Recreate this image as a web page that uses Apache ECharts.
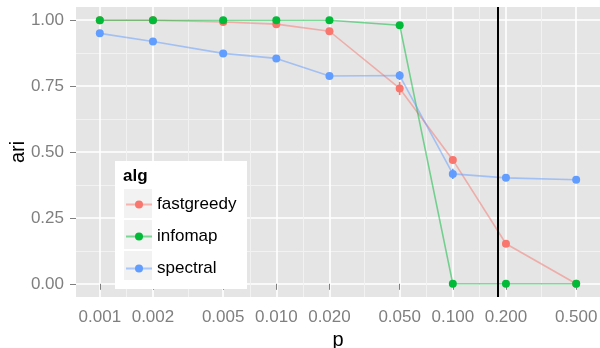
<!DOCTYPE html>
<html><head><meta charset="utf-8">
<script src="https://cdn.jsdelivr.net/npm/echarts@6/dist/echarts.min.js"></script>
<style>html,body{margin:0;padding:0;background:#fff}#c{width:600px;height:348px}</style>
</head><body><div id="c"></div>
<script>
const pValues = [0.001, 0.002, 0.005, 0.010, 0.020, 0.050, 0.100, 0.200, 0.500];
const xTicks = [0.001, 0.002, 0.005, 0.010, 0.020, 0.050, 0.100, 0.200, 0.500];
const xMinor = [0.001414, 0.003162, 0.007071, 0.01414, 0.03162, 0.07071, 0.1414, 0.3162];
const yTicks = [0, 0.25, 0.5, 0.75, 1.0];
const yMinor = [0.125, 0.375, 0.625, 0.875];
const fastgreedy    = [1.000, 1.000, 0.993, 0.985, 0.958, 0.741, 0.470, 0.152, 0.000];
const infomap       = [1.000, 1.000, 1.000, 1.000, 1.000, 0.981, 0.000, 0.000, 0.000];
const spectral      = [0.950, 0.919, 0.874, 0.855, 0.788, 0.790, 0.417, 0.402, 0.395];
const fastgreedyErr = [0, 0, 0, 0, 0, 0.025, 0, 0, 0];
const infomapErr    = [0, 0, 0, 0, 0, 0, 0, 0, 0];
const spectralErr   = [0, 0, 0, 0, 0, 0.017, 0.019, 0, 0];
const vline = 0.185;
const seriesNames = ['fastgreedy', 'infomap', 'spectral'];
const colors = ['#F8766D', '#00BA38', '#619CFF'];

const FONT = 'Liberation Sans, Arial, sans-serif';
const chart = echarts.init(document.getElementById('c'), null, {renderer: 'canvas'});
const xmin = Math.pow(10, -3 - 0.05 * Math.log10(500));
const xmax = Math.pow(10, Math.log10(0.5) + 0.05 * Math.log10(500));
const grid = {left: 76, right: 0, top: 7, bottom: 51, show: true, backgroundColor: '#E5E5E5', borderWidth: 0, containLabel: false, outerBoundsMode: 'none'};
const data = [fastgreedy, infomap, spectral];
const errs = [fastgreedyErr, infomapErr, spectralErr];
const series = [];
seriesNames.forEach((n, i) => {
  series.push({
    name: n, type: 'line', xAxisIndex: 0, yAxisIndex: 0,
    data: pValues.map((p, j) => [p, data[i][j]]),
    symbol: 'circle', symbolSize: 8,
    itemStyle: {color: colors[i], opacity: 1},
    lineStyle: {color: colors[i], width: 1.6, opacity: 0.5},
    z: 3
  });
  series.push({
    name: n, type: 'custom', xAxisIndex: 0, yAxisIndex: 0, silent: true, z: 4,
    data: pValues.map((p, j) => [p, data[i][j] - errs[i][j], data[i][j] + errs[i][j]]).filter((d, j) => errs[i][j] > 0),
    renderItem: (params, api) => {
      const lo = api.coord([api.value(0), api.value(1)]);
      const hi = api.coord([api.value(0), api.value(2)]);
      return {type: 'line', shape: {x1: lo[0], y1: lo[1], x2: hi[0], y2: hi[1]}, style: {stroke: colors[i], lineWidth: 1.6}};
    }
  });
});
series[0].markLine = {
  silent: true, symbol: 'none', label: {show: false},
  lineStyle: {color: '#000', width: 2, type: 'solid', opacity: 1},
  data: [{xAxis: vline}], z: 5
};
chart.setOption({
  animation: false,
  grid: grid,
  xAxis: [{
    type: 'log', logBase: 10, min: xmin, max: xmax,
    name: 'p', nameLocation: 'middle', nameGap: 26,
    nameTextStyle: {fontFamily: FONT, fontSize: 20, color: '#000'},
    axisLine: {show: false},
    axisTick: {show: true, customValues: xTicks, length: 6, lineStyle: {color: '#7F7F7F', width: 1}},
    axisLabel: {customValues: xTicks, formatter: v => Number(v).toFixed(3), fontFamily: FONT, fontSize: 17, color: '#7F7F7F', margin: 12},
    splitLine: {show: true, lineStyle: {color: '#FFFFFF', width: 1.6}},
    minorSplitLine: {show: false}
  }, {
    type: 'log', logBase: 10, min: xmin, max: xmax, position: 'bottom',
    axisLine: {show: false}, axisLabel: {show: false, customValues: xMinor},
    axisTick: {show: false, customValues: xMinor},
    splitLine: {show: true, lineStyle: {color: '#F2F2F2', width: 1}}
  }],
  yAxis: [{
    type: 'value', min: -0.05, max: 1.05,
    name: 'ari', nameLocation: 'middle', nameGap: 48, nameRotate: 90, nameMoveOverlap: false,
    nameTextStyle: {fontFamily: FONT, fontSize: 20, color: '#000'},
    axisLine: {show: false},
    axisTick: {show: true, customValues: yTicks, length: 6, lineStyle: {color: '#7F7F7F', width: 1}},
    axisLabel: {customValues: yTicks, formatter: v => Number(v).toFixed(2), fontFamily: FONT, fontSize: 17, color: '#7F7F7F', margin: 12},
    splitLine: {show: true, lineStyle: {color: '#FFFFFF', width: 1.6}}
  }, {
    type: 'value', min: -0.05, max: 1.05,
    axisLine: {show: false}, axisLabel: {show: false, customValues: yMinor},
    axisTick: {show: false, customValues: yMinor},
    splitLine: {show: true, lineStyle: {color: '#F2F2F2', width: 1}}
  }],
  legend: {
    orient: 'vertical', left: 125, top: 196, padding: 0, itemWidth: 26, itemHeight: 10, itemGap: 15,
    data: seriesNames, z: 20,
    textStyle: {fontFamily: FONT, fontSize: 17, color: '#000', lineHeight: 10},
    itemStyle: {opacity: 1}
  },
  graphic: [
    {type: 'rect', left: 115, top: 161, shape: {width: 132, height: 128}, style: {fill: '#FFFFFF'}, z: 10, silent: true},
    {type: 'rect', left: 124, top: 189, shape: {width: 28, height: 29}, style: {fill: '#F2F2F2'}, z: 11, silent: true},
    {type: 'rect', left: 124, top: 220, shape: {width: 28, height: 29}, style: {fill: '#F2F2F2'}, z: 11, silent: true},
    {type: 'rect', left: 124, top: 251, shape: {width: 28, height: 29}, style: {fill: '#F2F2F2'}, z: 11, silent: true},
    {type: 'text', x: 123, y: 176, style: {text: 'alg', font: 'bold 17px ' + FONT, fill: '#000', verticalAlign: 'middle'}, z: 11, silent: true}
  ],
  series: series
});
</script></body></html>
